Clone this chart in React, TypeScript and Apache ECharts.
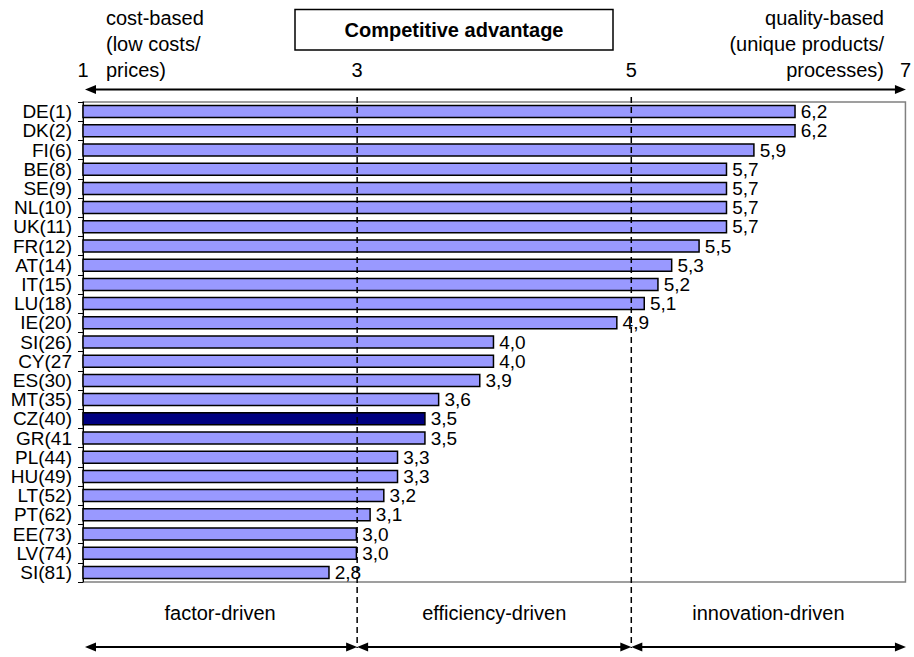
import React, { useEffect, useRef } from 'react';
import * as echarts from 'echarts';

const categories = ['DE(1)', 'DK(2)', 'FI(6)', 'BE(8)', 'SE(9)', 'NL(10)', 'UK(11)', 'FR(12)', 'AT(14)', 'IT(15)', 'LU(18)', 'IE(20)', 'SI(26)', 'CY(27', 'ES(30)', 'MT(35)', 'CZ(40)', 'GR(41', 'PL(44)', 'HU(49)', 'LT(52)', 'PT(62)', 'EE(73)', 'LV(74)', 'SI(81)'];
const values = [6.2, 6.2, 5.9, 5.7, 5.7, 5.7, 5.7, 5.5, 5.3, 5.2, 5.1, 4.9, 4.0, 4.0, 3.9, 3.6, 3.5, 3.5, 3.3, 3.3, 3.2, 3.1, 3.0, 3.0, 2.8];
const highlighted = 'CZ(40)';
const stageBounds = [1, 3, 5, 7];
const stageLabels = ['factor-driven', 'efficiency-driven', 'innovation-driven'];
const title = 'Competitive advantage';
const leftNote = ['cost-based', '(low costs/', 'prices)'];
const rightNote = ['quality-based', '(unique products/', 'processes)'];

const FONT = '"Liberation Sans", Arial, sans-serif';

function txt(text: string, x: number, y: number, align: string, extra: any = {}) {
  return {
    type: 'text',
    x,
    y,
    z: 20,
    style: {
      text,
      fill: '#000',
      fontSize: 20,
      fontFamily: FONT,
      align,
      textAlign: align,
      verticalAlign: 'middle',
      textVerticalAlign: 'middle',
      ...extra,
    },
  };
}

function arrow(x1: number, x2: number, y: number) {
  const hl = 11;
  const hw = 4.5;
  return [
    { type: 'line', z: 20, shape: { x1: x1 + 4, y1: y, x2: x2 - 4, y2: y }, style: { stroke: '#000', lineWidth: 2 } },
    { type: 'polygon', z: 20, shape: { points: [[x1, y], [x1 + hl, y - hw], [x1 + hl, y + hw]] }, style: { fill: '#000' } },
    { type: 'polygon', z: 20, shape: { points: [[x2, y], [x2 - hl, y - hw], [x2 - hl, y + hw]] }, style: { fill: '#000' } },
  ];
}

export default function App() {
  const ref = useRef<HTMLDivElement>(null);
  useEffect(() => {
    if (!ref.current) return;
    const chart = echarts.init(ref.current, undefined, { renderer: 'svg' });
    chart.setOption({
      animation: false,
      backgroundColor: '#fff',
      grid: { left: 83, top: 102, right: 6.5, bottom: 75, show: true, borderColor: '#808080', borderWidth: 1.5, backgroundColor: 'transparent' },
      xAxis: {
        type: 'value',
        position: 'top',
        min: 1,
        max: 7,
        interval: 2,
        offset: 12,
        axisLine: { show: false },
        axisTick: { show: false },
        splitLine: { show: false },
        axisLabel: { color: '#000', fontSize: 20, fontFamily: FONT, margin: 10 },
      },
      yAxis: {
        type: 'category',
        data: categories,
        inverse: true,
        axisLine: { show: true, lineStyle: { color: '#000', width: 1 } },
        axisTick: { show: true, length: 5, lineStyle: { color: '#000' } },
        axisLabel: { color: '#000', fontSize: 19, fontFamily: FONT, margin: 11, interval: 0 },
      },
      series: [
        {
          type: 'bar',
          barWidth: 13.5,
          data: values.map((v, i) => ({
            value: v,
            itemStyle: { color: categories[i] === highlighted ? '#000080' : '#9999ff' },
          })),
          itemStyle: { borderColor: '#000', borderWidth: 1.5 },
          label: {
            show: true,
            position: 'right',
            distance: 5,
            color: '#000',
            fontSize: 19,
            fontFamily: FONT,
            formatter: (p: any) => Number(p.value).toFixed(1).replace('.', ','),
          },
        },
      ],
    });

    const px = (v: number) => chart.convertToPixel({ xAxisIndex: 0 }, v) as number;
    const xs = stageBounds.map(px);
    const graphics: any[] = [];
    graphics.push({ type: 'rect', z: 19, shape: { x: 295, y: 9.5, width: 318, height: 40.5 }, style: { fill: '#fff', stroke: '#000', lineWidth: 1.5 } });
    graphics.push(txt(title, 454, 30, 'center', { fontWeight: 'bold' }));
    leftNote.forEach((t, i) => graphics.push(txt(t, 106, 18 + i * 26, 'left')));
    rightNote.forEach((t, i) => graphics.push(txt(t, 884, 18 + i * 26, 'right')));
    graphics.push(...arrow(xs[0] + 2, xs[3] + 0.5, 89.5));
    [xs[1], xs[2]].forEach((x) => {
      graphics.push({ type: 'line', z: 20, shape: { x1: x, y1: 97, x2: x, y2: 648 }, style: { stroke: '#000', lineWidth: 1.5, lineDash: [6, 4] } });
    });
    for (let i = 0; i < 3; i++) {
      const a = i === 0 ? xs[0] + 2 : xs[i];
      const b = xs[i + 1] + (i === 2 ? 0.5 : 0);
      graphics.push(...arrow(a, b, 647));
      graphics.push(txt(stageLabels[i], (xs[i] + xs[i + 1]) / 2, 613, 'center', { fontSize: 20 }));
    }
    chart.setOption({ graphic: graphics });

    return () => chart.dispose();
  }, []);
  return <div ref={ref} style={{ position: 'fixed', left: 0, top: 0, width: 914, height: 657, background: '#fff' }} />;
}
